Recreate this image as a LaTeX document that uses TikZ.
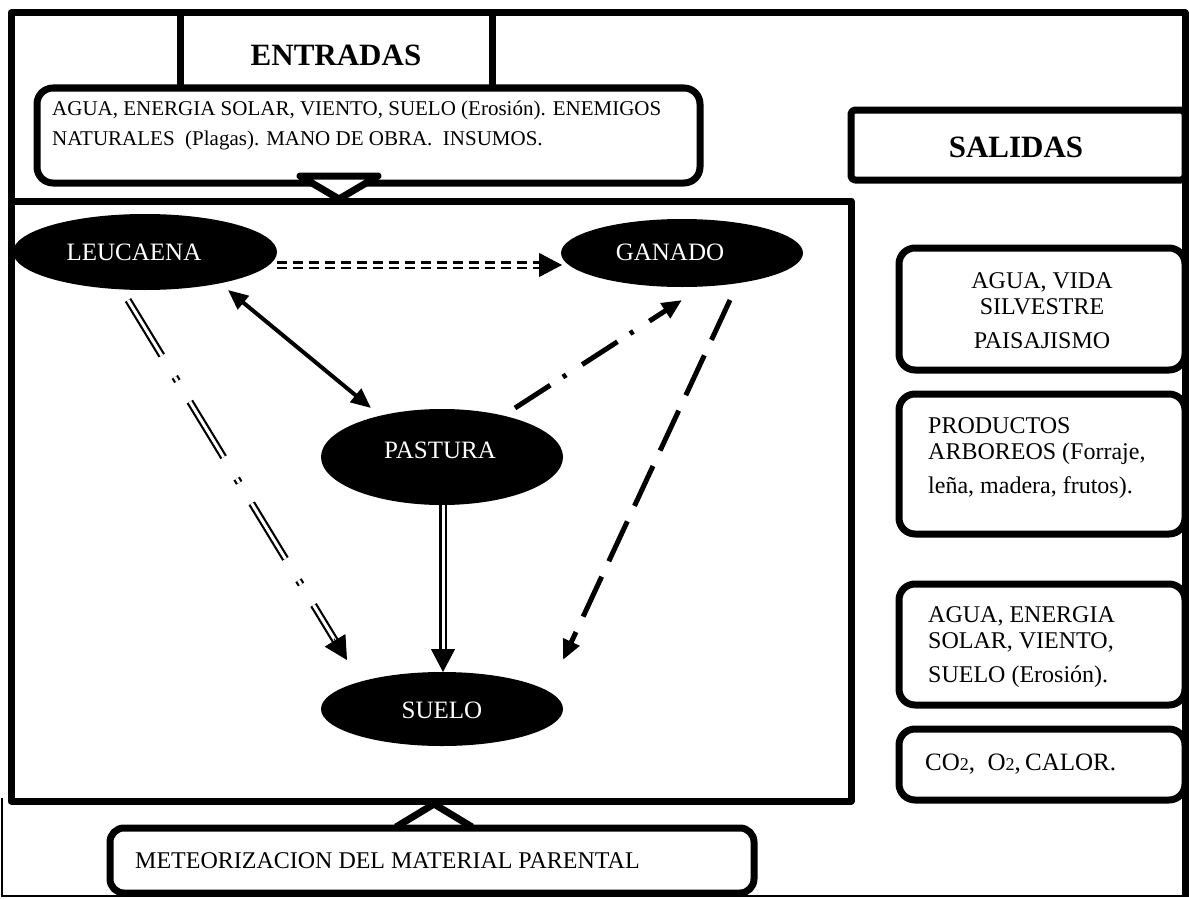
\documentclass[tikz,border=0pt]{standalone}
\usepackage{fontspec}
\setmainfont{Liberation Serif}
\usetikzlibrary{arrows.meta,shapes.geometric,calc}

\tikzset{
  frame/.style={line width=7pt, line join=round},
  rbox/.style={frame, fill=white, rounded corners=16pt},
  ell/.style={ellipse, fill=black, draw=none, inner sep=0pt},
  ellab/.style={text=white, font=\fontsize{25}{28}\selectfont, inner sep=0pt},
  body/.style={font=\fontsize{24}{26}\selectfont, inner sep=0pt},
  head/.style={font=\fontsize{31}{34}\selectfont\bfseries, inner sep=0pt},
  dbl/.style={double, double distance=3pt, line width=2.2pt},
  bigtip/.style={-{Triangle[length=23pt,width=24pt]}, line width=1pt},
}

\begin{document}
\begin{tikzpicture}[x=1pt,y=-1pt]
\useasboundingbox (0,0) rectangle (1189,899);

% outer frame
\draw[frame] (11,801) -- (11,13) -- (1185,13) -- (1185,897);
\draw[line width=2.5pt] (2,798) -- (2,896) -- (1185,896);

% system box
\draw[frame] (11,201) rectangle (851,801);

% inputs
\draw[frame, fill=white] (180,13) rectangle (492,100);
\node[head] (entradas) at (336,55) {ENTRADAS};
\draw[rbox] (37,88) rectangle (700,183);
\node[body, anchor=north west, align=left, font=\fontsize{21}{30}\selectfont] (inputs) at (52,101)
  {AGUA, ENERGIA SOLAR, VIENTO, SUELO (Erosión). ENEMIGOS\\NATURALES\ \ (Plagas). MANO DE OBRA.\ \ INSUMOS.};
\draw[frame, fill=white, line cap=round] (300,176) -- (378,176) -- (339,199) -- cycle;

% outputs
\draw[frame, fill=white, rounded corners=4pt] (851,110) rectangle (1185,180);
\node[head] (salidas) at (1016,147) {SALIDAS};

\draw[rbox] (899,248) rectangle (1185,370);
\node[body, align=center] (out1) at (1042,311) {AGUA, VIDA\\SILVESTRE\\[8pt]PAISAJISMO};
\draw[rbox] (899,394) rectangle (1185,534);
\node[body, align=left, anchor=north west] (out2) at (928,417) {PRODUCTOS\\ARBOREOS (Forraje,\\[8pt]leña, madera, frutos).};
\draw[rbox] (899,584) rectangle (1185,705);
\node[body, align=left, anchor=north west] (out3) at (928,606) {AGUA, ENERGIA\\SOLAR, VIENTO,\\[8pt]SUELO (Erosión).};
\draw[rbox] (899,729) rectangle (1185,800);
\node[body, anchor=west, font=\fontsize{25}{26}\selectfont] (out4) at (925,764) {CO{\fontsize{18}{18}\selectfont 2},\ \ O{\fontsize{18}{18}\selectfont 2},\,CALOR.};

% parent material
\draw[rbox, rounded corners=14pt] (110,828) rectangle (754,893);
\node[body, anchor=west] (meteo) at (135,861) {METEORIZACION DEL MATERIAL PARENTAL};
\draw[frame] (396,827) -- (434,804) -- (472,827);

% components
\node[ell, minimum width=264pt, minimum height=76pt] (leu) at (145,252) {};
\node[ellab] (leut) at (134,252) {LEUCAENA};
\node[ell, minimum width=242pt, minimum height=68pt] (gan) at (682,253) {};
\node[ellab] (gant) at (670,252) {GANADO};
\node[ell, minimum width=242pt, minimum height=96pt] (pas) at (442,457) {};
\node[ellab] (past) at (440,450) {PASTURA};
\node[ell, minimum width=242pt, minimum height=74pt] (sue) at (442,709) {};
\node[ellab] (suet) at (442,710) {SUELO};

% connector ends
\coordinate (lg1) at (277,265);
\coordinate (lg2) at (562,265);
\coordinate (lp1) at (228,290);
\coordinate (lp2) at (371,408);
\coordinate (pg1) at (515,408);
\coordinate (pg2) at (682,300);
\coordinate (gs1) at (730,300);
\coordinate (gs2) at (563,660);
\coordinate (ps1) at (443,505);
\coordinate (ps2) at (443,672);
\coordinate (ls1) at (128,300);
\coordinate (ls2) at (347,660);

% leucaena -> ganado
\draw[dbl, dash pattern=on 10pt off 6pt] (lg1) -- ($(lg2)!20pt!(lg1)$);
\draw[bigtip] ($(lg2)!23pt!(lg1)$) -- (lg2);
% leucaena <-> pastura
\draw[line width=4pt, {Triangle[length=20pt,width=17pt]}-{Triangle[length=20pt,width=17pt]}] (lp1) -- (lp2);
% pastura -> ganado
\draw[line width=5pt, dash pattern=on 42pt off 15pt on 4pt off 19pt, -{Triangle[length=20pt,width=17pt]}] (pg1) -- (pg2);
% ganado -> suelo
\draw[line width=5pt, dash pattern=on 44pt off 17pt, -{Triangle[length=20pt,width=17pt]}] (gs1) -- (gs2);
% pastura -> suelo
\draw[dbl] (ps1) -- ($(ps2)!20pt!(ps1)$);
\draw[bigtip] ($(ps2)!23pt!(ps1)$) -- (ps2);
% leucaena -> suelo
\draw[dbl, dash pattern=on 65pt off 25pt on 5pt off 24pt] (ls1) -- ($(ls2)!22pt!(ls1)$);
\draw[bigtip] ($(ls2)!25pt!(ls1)$) -- (ls2);
\end{tikzpicture}
\end{document}
